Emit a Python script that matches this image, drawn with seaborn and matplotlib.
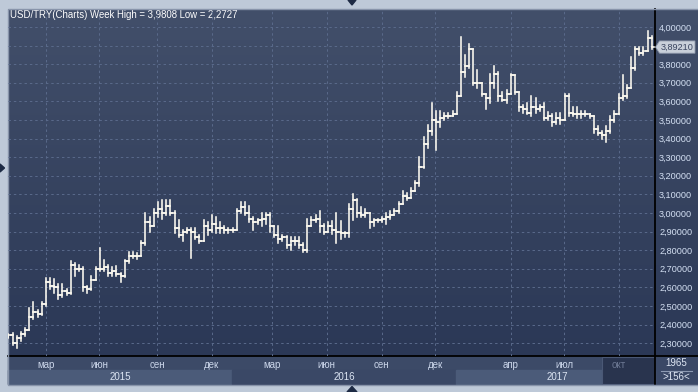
import numpy as np
import pandas as pd
import matplotlib
matplotlib.use("Agg")
import matplotlib.pyplot as plt
import seaborn as sns
from matplotlib.colors import LinearSegmentedColormap
from matplotlib.patches import Rectangle, Polygon
from matplotlib.transforms import blended_transform_factory

# ---------------- data (weekly OHLC, USD/TRY) ----------------
opens = [2.335, 2.345, 2.30, 2.33, 2.35, 2.37, 2.44, 2.47, 2.455, 2.51,
         2.63, 2.61, 2.60, 2.56, 2.58, 2.57, 2.72, 2.70, 2.70, 2.60,
         2.59, 2.64, 2.70, 2.70, 2.71, 2.68, 2.69, 2.67, 2.66, 2.74,
         2.77, 2.77, 2.77, 2.84, 2.95, 2.93, 3.00, 3.02, 3.00, 3.04,
         3.00, 2.92, 2.88, 2.90, 2.91, 2.90, 2.87, 2.85, 2.93, 2.91,
         2.94, 2.92, 2.92, 2.91, 2.91, 2.91, 3.01, 3.03, 3.00, 2.97,
         2.95, 2.96, 2.97, 2.99, 2.93, 2.88, 2.86, 2.87, 2.83, 2.85,
         2.85, 2.83, 2.80, 2.93, 2.96, 2.97, 2.93, 2.90, 2.93, 2.91,
         2.90, 2.89, 2.89, 3.02, 3.07, 3.00, 2.99, 3.00, 2.95, 2.96,
         2.96, 2.97, 2.98, 2.99, 3.01, 3.05, 3.09, 3.08, 3.12, 3.16,
         3.25, 3.37, 3.44, 3.50, 3.49, 3.51, 3.52, 3.52, 3.53, 3.63,
         3.76, 3.79, 3.88, 3.70, 3.70, 3.64, 3.62, 3.70, 3.75, 3.63,
         3.61, 3.64, 3.74, 3.65, 3.57, 3.56, 3.54, 3.57, 3.56, 3.57,
         3.51, 3.52, 3.49, 3.51, 3.50, 3.63, 3.54, 3.53, 3.53, 3.53,
         3.53, 3.52, 3.45, 3.43, 3.42, 3.44, 3.50, 3.53, 3.62, 3.63,
         3.67, 3.78, 3.88, 3.86, 3.87, 3.94]

highs = [2.35, 2.355, 2.34, 2.36, 2.38, 2.49, 2.52, 2.48, 2.52, 2.65,
         2.65, 2.645, 2.62, 2.62, 2.59, 2.74, 2.73, 2.72, 2.71, 2.61,
         2.66, 2.71, 2.81, 2.75, 2.72, 2.71, 2.715, 2.68, 2.75, 2.79,
         2.79, 2.785, 2.85, 3.00, 2.98, 3.02, 3.06, 3.07, 3.07, 3.07,
         3.01, 2.96, 2.91, 2.92, 2.92, 2.92, 2.88, 2.96, 2.95, 2.99,
         2.98, 2.95, 2.93, 2.92, 2.92, 3.02, 3.06, 3.06, 3.04, 2.98,
         2.97, 3.00, 3.00, 3.00, 2.93, 2.93, 2.88, 2.875, 2.87, 2.87,
         2.87, 2.84, 2.97, 2.98, 2.99, 3.01, 2.94, 2.95, 2.955, 3.00,
         2.955, 2.90, 3.05, 3.10, 3.075, 3.03, 3.02, 3.00, 2.97, 2.97,
         2.98, 3.00, 3.01, 3.02, 3.06, 3.12, 3.11, 3.135, 3.17, 3.30,
         3.41, 3.475, 3.59, 3.55, 3.55, 3.54, 3.54, 3.55, 3.65, 3.945,
         3.85, 3.91, 3.88, 3.77, 3.70, 3.64, 3.75, 3.79, 3.76, 3.65,
         3.66, 3.75, 3.74, 3.65, 3.58, 3.59, 3.63, 3.62, 3.58, 3.59,
         3.545, 3.53, 3.54, 3.54, 3.64, 3.64, 3.57, 3.57, 3.55, 3.55,
         3.53, 3.52, 3.47, 3.44, 3.47, 3.52, 3.55, 3.64, 3.74, 3.69,
         3.84, 3.89, 3.895, 3.895, 3.9808, 3.95]

lows = [2.33, 2.29, 2.2727, 2.31, 2.34, 2.37, 2.43, 2.44, 2.45, 2.50,
        2.59, 2.57, 2.54, 2.55, 2.56, 2.565, 2.66, 2.69, 2.58, 2.57,
        2.585, 2.64, 2.69, 2.69, 2.66, 2.66, 2.66, 2.63, 2.655, 2.73,
        2.76, 2.755, 2.77, 2.83, 2.90, 2.93, 2.98, 2.97, 2.99, 2.99,
        2.89, 2.87, 2.85, 2.89, 2.76, 2.86, 2.84, 2.85, 2.88, 2.90,
        2.89, 2.89, 2.89, 2.89, 2.90, 2.91, 3.00, 2.99, 2.95, 2.91,
        2.94, 2.93, 2.94, 2.90, 2.87, 2.84, 2.85, 2.81, 2.80, 2.83,
        2.81, 2.79, 2.79, 2.93, 2.95, 2.90, 2.885, 2.90, 2.885, 2.84,
        2.86, 2.87, 2.87, 2.96, 2.98, 2.98, 2.98, 2.92, 2.93, 2.95,
        2.95, 2.94, 2.97, 2.99, 3.00, 3.05, 3.07, 3.08, 3.12, 3.145,
        3.24, 3.35, 3.42, 3.34, 3.46, 3.50, 3.51, 3.52, 3.53, 3.63,
        3.73, 3.78, 3.69, 3.67, 3.63, 3.56, 3.59, 3.67, 3.60, 3.60,
        3.59, 3.64, 3.64, 3.55, 3.54, 3.53, 3.52, 3.54, 3.55, 3.50,
        3.50, 3.47, 3.48, 3.48, 3.50, 3.52, 3.52, 3.51, 3.51, 3.52,
        3.51, 3.43, 3.42, 3.40, 3.38, 3.43, 3.49, 3.53, 3.61, 3.62,
        3.67, 3.77, 3.85, 3.85, 3.87, 3.88]

closes = [2.345, 2.30, 2.33, 2.35, 2.37, 2.44, 2.47, 2.455, 2.51, 2.63,
          2.61, 2.60, 2.56, 2.58, 2.57, 2.72, 2.70, 2.70, 2.60, 2.59,
          2.64, 2.70, 2.70, 2.71, 2.68, 2.69, 2.67, 2.66, 2.74, 2.77,
          2.77, 2.77, 2.84, 2.95, 2.93, 3.00, 3.02, 3.00, 3.04, 3.00,
          2.92, 2.88, 2.90, 2.91, 2.90, 2.87, 2.85, 2.93, 2.91, 2.94,
          2.92, 2.92, 2.91, 2.91, 2.91, 3.01, 3.03, 3.00, 2.97, 2.95,
          2.96, 2.97, 2.99, 2.93, 2.88, 2.86, 2.87, 2.83, 2.85, 2.85,
          2.83, 2.80, 2.93, 2.96, 2.97, 2.93, 2.90, 2.93, 2.91, 2.90,
          2.89, 2.89, 3.02, 3.07, 3.00, 2.99, 3.00, 2.95, 2.96, 2.96,
          2.97, 2.98, 2.99, 3.01, 3.05, 3.09, 3.08, 3.12, 3.16, 3.25,
          3.37, 3.44, 3.50, 3.49, 3.51, 3.52, 3.52, 3.53, 3.63, 3.76,
          3.79, 3.88, 3.70, 3.70, 3.64, 3.62, 3.70, 3.75, 3.63, 3.61,
          3.64, 3.74, 3.65, 3.57, 3.56, 3.54, 3.57, 3.56, 3.57, 3.51,
          3.52, 3.49, 3.51, 3.50, 3.63, 3.54, 3.53, 3.53, 3.53, 3.53,
          3.52, 3.45, 3.43, 3.42, 3.44, 3.50, 3.53, 3.62, 3.63, 3.67,
          3.78, 3.88, 3.86, 3.87, 3.94, 3.8921]

ytick_values = [2.3, 2.4, 2.5, 2.6, 2.7, 2.8, 2.9, 3.0, 3.1, 3.2, 3.3,
                3.4, 3.5, 3.6, 3.7, 3.8, 3.9, 4.0]
ytick_labels = ["2,30000", "2,40000", "2,50000", "2,60000", "2,70000",
                "2,80000", "2,90000", "3,00000", "3,10000", "3,20000",
                "3,30000", "3,40000", "3,50000", "3,60000", "3,70000",
                "3,80000", "3,90000", "4,00000"]
month_labels = ["мар", "июн", "сен", "дек", "мар", "июн", "сен", "дек",
                "апр", "июл", "окт"]
month_pos = [9.0, 21.8, 35.8, 49.0, 63.6, 76.7, 89.9, 102.8, 121.0, 133.9, 147.1]
year_labels = ["2015", "2016", "2017"]
title_text = "USD/TRY(Charts) Week High = 3,9808 Low = 2,2727"
last_price_label = "3,89210"
counter_top = "1965"
counter_bottom = ">156<"

# ---------------- figure ----------------
W, H = 698, 392
plt.rcParams['font.family'] = ['Liberation Sans', 'DejaVu Sans']
fig = plt.figure(figsize=(W / 100, H / 100), dpi=100, facecolor="#bec9d8")

# background axes in pixel coordinates
bg = fig.add_axes([0, 0, 1, 1], zorder=0)
bg.set_xlim(0, W)
bg.set_ylim(H, 0)
bg.axis("off")
cmap = LinearSegmentedColormap.from_list("bg", ["#424f6a", "#2b3856"])
bg.imshow(np.linspace(0, 1, 256).reshape(-1, 1), cmap=cmap, aspect="auto",
          extent=(8, W, 356, 9), zorder=0)
# bottom time axis panel
bg.add_patch(Rectangle((8, 356), 647, 28, color="#3c4a67", zorder=1))
bg.add_patch(Rectangle((8, 370), 224, 14, color="#4b5b79", zorder=2))
bg.add_patch(Rectangle((232, 370), 224, 14, color="#3a4866", zorder=2))
bg.add_patch(Rectangle((456, 370), 199, 14, color="#4b5b79", zorder=2))
bg.add_patch(Rectangle((602, 357), 53, 27, facecolor="#29344e",
                       edgecolor="#4a5875", lw=0.8, zorder=3))
# corner box
bg.add_patch(Rectangle((655, 356), 43, 28, color="#3a4866", zorder=1))
bg.plot([661, 692], [371, 371], color="#8d9ab2", lw=0.8, zorder=4)
bg.text(676, 363.5, counter_top, ha="center", va="center", fontsize=7,
        color="#dfe7f4", zorder=5)
bg.text(676, 377.5, counter_bottom, ha="center", va="center", fontsize=7,
        color="#dfe7f4", zorder=5)
# frame lines
bg.plot([655, 655], [9, 384], color="black", lw=1.3, zorder=6)
bg.plot([8, W], [356, 356], color="black", lw=1.3, zorder=6)
bg.add_patch(Rectangle((7.5, 8.5), W - 7, 376, fill=False,
                       edgecolor="#8894aa", lw=1, zorder=6))
# year labels
for xpix, lab in zip([120, 344, 557], year_labels):
    bg.text(xpix, 377, lab, ha="center", va="center", fontsize=7,
            color="#dce5f3", zorder=5)
# title
bg.text(10, 14.5, title_text, ha="left", va="center", fontsize=6.9,
        color="white", zorder=5)

# ---------------- main price axes ----------------
ax = fig.add_axes([8 / W, 1 - 356 / H, 647 / W, 347 / H], zorder=2)
ax.set_facecolor("none")

rows = []
for i, (o, h, l, c) in enumerate(zip(opens, highs, lows, closes)):
    s = 3 * i
    rows += [(s, i, l), (s, i, h),
             (s + 1, i - 0.5, o), (s + 1, i, o),
             (s + 2, i, c), (s + 2, i + 0.5, c)]
df = pd.DataFrame(rows, columns=["seg", "x", "y"])
sns.lineplot(data=df, x="x", y="y", units="seg", estimator=None, sort=False,
             color="#fffcf2", linewidth=1.15, legend=False, ax=ax, zorder=3)

ax.set_xlim(-0.12, 155.78)
ax.set_ylim(2.2312, 4.0968)
ax.set_xlabel("")
ax.set_ylabel("")
for sp in ax.spines.values():
    sp.set_visible(False)
ax.yaxis.tick_right()
ax.set_yticks(ytick_values)
ax.set_yticklabels(ytick_labels)
ax.set_xticks(month_pos)
ax.set_xticklabels(month_labels)
ax.tick_params(axis="y", length=0, pad=3, labelsize=6.6, labelcolor="#d4e0f3")
ax.tick_params(axis="x", length=0, pad=3, labelsize=7, labelcolor="#cbd6ea")
ax.get_xticklabels()[-1].set_color("#6c7893")
ax.grid(True, color="#5a6a8b", linestyle=(0, (2.5, 3)), linewidth=0.7)
ax.set_axisbelow(True)

# ---------------- overlay: last price marker and arrows ----------------
ov = fig.add_axes([0, 0, 1, 1], zorder=5)
ov.set_xlim(0, W)
ov.set_ylim(H, 0)
ov.axis("off")
ov.patch.set_visible(False)
tr = blended_transform_factory(ov.transData, ax.transData)
last = closes[-1]
hh = 0.033
ov.add_patch(Polygon([(655.5, last), (659.5, last + hh), (695, last + hh),
                      (695, last - hh), (659.5, last - hh)], closed=True,
                     facecolor="#c9d0da", edgecolor="#8e98aa", lw=0.6,
                     transform=tr))
ov.text(677, last, last_price_label, ha="center", va="center", fontsize=6.6,
        color="#3a4560", transform=tr)
ov.add_patch(Polygon([(348, 0), (356, 0), (352, 5)], closed=True,
                     color="#1d2a44"))
ov.add_patch(Polygon([(0, 164), (0, 172), (4.5, 168)], closed=True,
                     color="#1d2a44"))
ov.add_patch(Polygon([(347, 392), (357, 392), (352, 386.5)], closed=True,
                     color="#1d2a44"))

fig.savefig("out.png", dpi=100, facecolor=fig.get_facecolor())
